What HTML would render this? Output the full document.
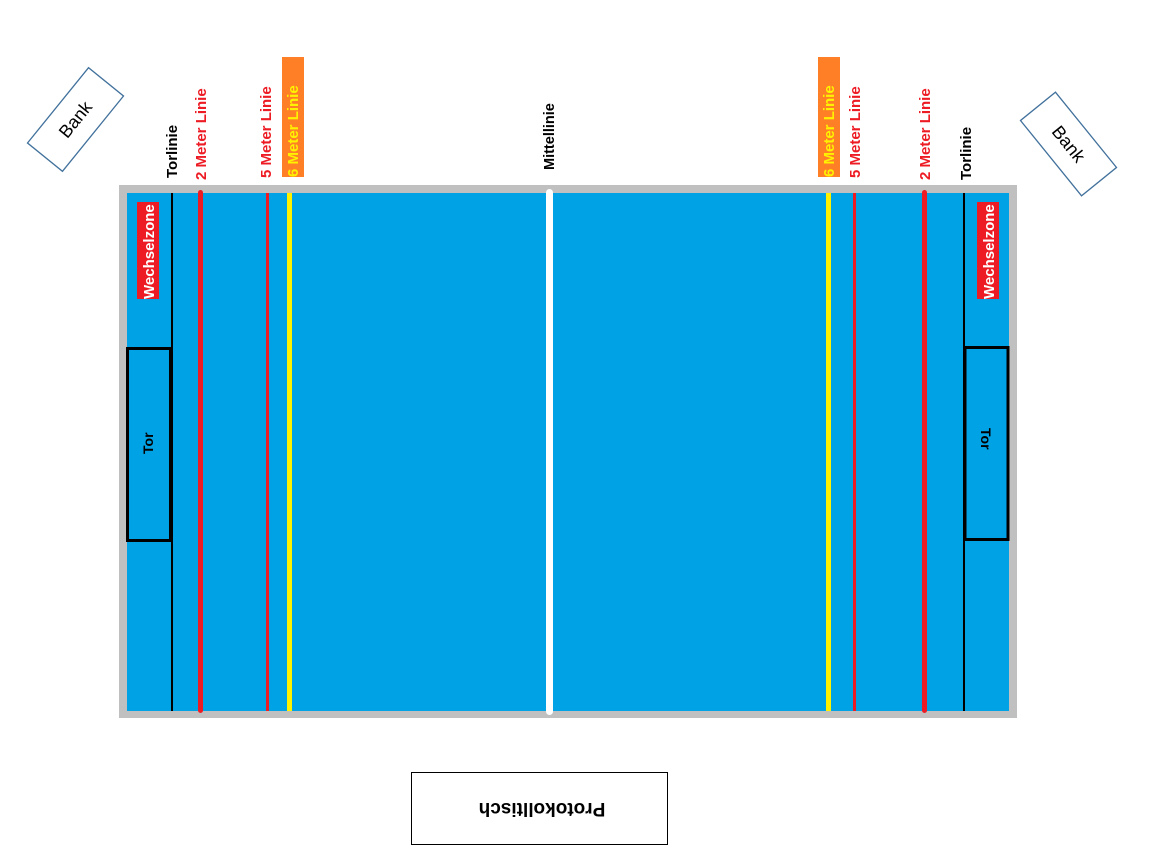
<!DOCTYPE html>
<html><head><meta charset="utf-8"><style>
html,body{margin:0;padding:0;background:#fff;}
svg{display:block;}
text{font-family:"Liberation Sans",Arial,sans-serif;font-weight:bold;}
</style></head><body>
<svg width="1166" height="868" viewBox="0 0 1166 868" xmlns="http://www.w3.org/2000/svg">
<rect x="119" y="185" width="898" height="533" fill="#c0c0c0"/>
<rect x="127" y="193" width="882" height="518" fill="#00a2e6"/>
<rect x="171" y="193" width="2" height="518" fill="#000"/>
<rect x="198" y="190" width="5" height="523" rx="2.5" fill="#ed1c24"/>
<rect x="266" y="193" width="3" height="518" fill="#ed1c24"/>
<rect x="287" y="193" width="5" height="518" fill="#fff200"/>
<rect x="546" y="189" width="7" height="526" rx="3.5" fill="#fff"/>
<rect x="826" y="193" width="5" height="518" fill="#fff200"/>
<rect x="853" y="193" width="3" height="518" fill="#ed1c24"/>
<rect x="922" y="190" width="5" height="523" rx="2.5" fill="#ed1c24"/>
<rect x="963" y="193" width="2" height="518" fill="#000"/>
<rect x="282" y="57" width="22" height="120" fill="#ff7f27"/>
<rect x="818" y="57" width="22" height="120" fill="#ff7f27"/>
<g font-size="15">
<text transform="translate(177,178) rotate(-90)" fill="#000">Torlinie</text>
<text transform="translate(206,180) rotate(-90)" fill="#ed1c24">2 Meter Linie</text>
<text transform="translate(271,178) rotate(-90)" fill="#ed1c24">5 Meter Linie</text>
<text transform="translate(298,177) rotate(-90)" fill="#fff200">6 Meter Linie</text>
<text transform="translate(554,170) rotate(-90)" font-size="14.5" fill="#000">Mittellinie</text>
<text transform="translate(834,177) rotate(-90)" fill="#fff200">6 Meter Linie</text>
<text transform="translate(860,178) rotate(-90)" fill="#ed1c24">5 Meter Linie</text>
<text transform="translate(930,180) rotate(-90)" fill="#ed1c24">2 Meter Linie</text>
<text transform="translate(971,180) rotate(-90)" fill="#000">Torlinie</text>
</g>
<rect x="137" y="202" width="22" height="97" fill="#ed1c24"/>
<rect x="977" y="202" width="22" height="97" fill="#ed1c24"/>
<g font-size="15" fill="#fff">
<text transform="translate(154,299) rotate(-90)">Wechselzone</text>
<text transform="translate(994,299) rotate(-90)">Wechselzone</text>
</g>
<rect x="127.5" y="348.5" width="43" height="192" fill="none" stroke="#000" stroke-width="3"/>
<rect x="965" y="347.5" width="43" height="192" fill="none" stroke="#000" stroke-width="3"/>
<text transform="translate(153,454) rotate(-90)" font-size="14" fill="#000">Tor</text>
<text transform="translate(981,428) rotate(90)" font-size="14" fill="#000">Tor</text>
<g transform="translate(75.5,119.5) rotate(-51)">
<rect x="-48.5" y="-22.5" width="97" height="45" fill="#fff" stroke="#41719c" stroke-width="1.3"/>
<text x="0" y="6" text-anchor="middle" font-size="18" fill="#000" style="font-weight:normal">Bank</text>
</g>
<g transform="translate(1068.5,144) rotate(51)">
<rect x="-48.5" y="-22.5" width="97" height="45" fill="#fff" stroke="#41719c" stroke-width="1.3"/>
<text x="0" y="6" text-anchor="middle" font-size="18" fill="#000" style="font-weight:normal">Bank</text>
</g>
<rect x="411.5" y="772.5" width="256" height="72" fill="#fff" stroke="#000" stroke-width="1"/>
<text transform="translate(542,803) rotate(180)" text-anchor="middle" font-size="19" fill="#000">Protokolltisch</text>
</svg>
</body></html>
